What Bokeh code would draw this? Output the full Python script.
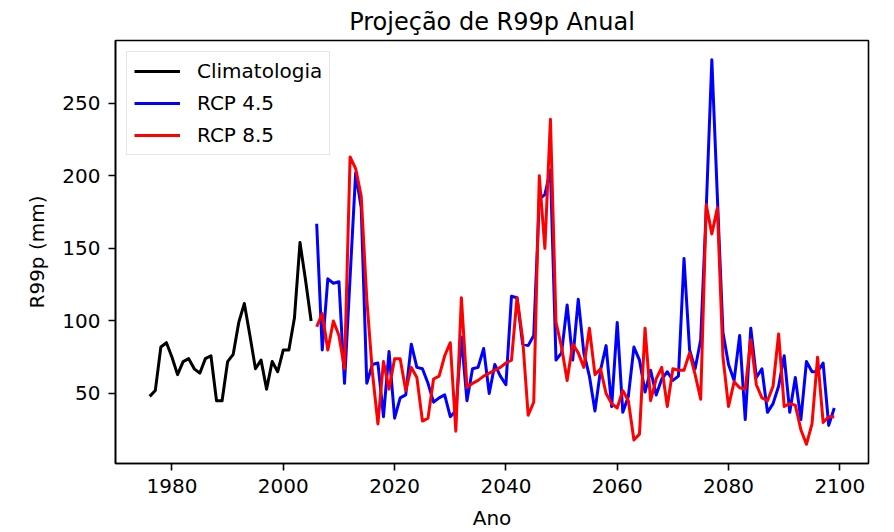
from bokeh.plotting import figure
from bokeh.models import SingleIntervalTicker, Range1d
from bokeh.embed import file_html
from bokeh.resources import INLINE

# Annual R99p (mm): observed climatology and two RCP projections
clim_years = list(range(1976, 2006))
clim_values = [48, 52, 82, 85, 75, 63, 72, 74, 67, 64,
               74, 76, 45, 45, 72, 77, 99, 112, 90, 67,
               73, 53, 72, 65, 80, 80, 102, 154, 128, 100]

proj_years = list(range(2006, 2100))
rcp45_values = [167, 80, 129, 126,
                127, 57, 130, 202, 178, 57, 70, 71, 34, 79,
                33, 47, 49, 84, 68, 67, 57, 44, 47, 49,
                34, 38, 89, 45, 67, 68, 81, 50, 70, 62,
                56, 117, 116, 84, 83, 90, 184, 187, 204, 73,
                78, 111, 73, 115, 78, 62, 38, 66, 83, 41,
                99, 37, 48, 82, 73, 51, 66, 49, 60, 65,
                59, 62, 143, 80, 67, 87, 178, 280, 185, 92,
                70, 59, 90, 32, 95, 61, 67, 37, 43, 55,
                76, 37, 61, 32, 72, 65, 65, 71, 28, 40]
rcp85_values = [96, 105, 80, 100,
                90, 67, 213, 205, 186, 115, 65, 29, 72, 53,
                74, 74, 52, 68, 61, 31, 33, 60, 62, 76,
                85, 24, 116, 54, 57, 59, 62, 64, 66, 68,
                71, 73, 116, 88, 35, 44, 200, 150, 239, 99,
                82, 59, 84, 78, 68, 95, 63, 67, 50, 43,
                40, 52, 45, 18, 22, 95, 45, 60, 68, 41,
                67, 66, 66, 78, 63, 46, 180, 160, 178, 75,
                41, 58, 54, 53, 87, 56, 47, 45, 55, 91,
                41, 43, 42, 25, 15, 29, 75, 30, 34, 34]

series_labels = ["Climatologia", "RCP 4.5", "RCP 8.5"]
series_colors = ["#000000", "#0000ff", "#ff0000"]

FONT = "DejaVu Sans"

# axis limits with a 5% pad around the data
all_x = clim_years + proj_years
all_y = clim_values + rcp45_values + rcp85_values
xpad = 0.05 * (max(all_x) - min(all_x))
ypad = 0.05 * (max(all_y) - min(all_y))

p = figure(width=894, height=532, output_backend="svg", toolbar_location=None,
           x_range=Range1d(min(all_x) - xpad, max(all_x) + xpad),
           y_range=Range1d(min(all_y) - ypad, max(all_y) + ypad),
           title="Projeção de R99p Anual",
           min_border_left=115, min_border_right=26,
           min_border_top=40, min_border_bottom=69)

p.background_fill_color = "white"
p.border_fill_color = "white"
p.outline_line_color = "black"
p.outline_line_width = 1.6
p.xgrid.visible = False
p.ygrid.visible = False

p.title.text_font = FONT
p.title.text_font_size = "24px"
p.title.text_font_style = "normal"
p.title.text_color = "black"
p.title.align = "center"

for series_x, series_y, lab, col in zip(
        [clim_years, proj_years, proj_years],
        [clim_values, rcp45_values, rcp85_values],
        series_labels, series_colors):
    p.line(series_x, series_y, line_color=col, line_width=3,
           line_join="round", legend_label=lab)

p.xaxis.ticker = SingleIntervalTicker(interval=20)
p.yaxis.ticker = SingleIntervalTicker(interval=50)
p.xaxis.axis_label = "Ano"
p.yaxis.axis_label = "R99p (mm)"

for ax in (p.xaxis[0], p.yaxis[0]):
    ax.axis_line_color = "black"
    ax.axis_line_width = 1.6
    ax.major_tick_in = 0
    ax.major_tick_out = 7
    ax.major_tick_line_width = 1.6
    ax.major_tick_line_color = "black"
    ax.minor_tick_line_color = None
    ax.major_label_text_font = FONT
    ax.major_label_text_font_size = "20px"
    ax.major_label_text_color = "black"
    ax.major_label_standoff = 8
    ax.axis_label_text_font = FONT
    ax.axis_label_text_font_size = "20px"
    ax.axis_label_text_font_style = "normal"
    ax.axis_label_text_color = "black"
    ax.axis_label_standoff = 10

lg = p.legend[0]
lg.location = "top_left"
lg.margin = 11
lg.padding = 7
lg.spacing = 8
lg.glyph_width = 46
lg.glyph_height = 24
lg.label_height = 24
lg.label_standoff = 17
lg.label_text_font = FONT
lg.label_text_font_size = "20px"
lg.label_text_color = "black"
lg.border_line_color = "#cccccc"
lg.border_line_width = 1.6
lg.background_fill_alpha = 0.8

open("out.html", "w").write(file_html(p, INLINE))
